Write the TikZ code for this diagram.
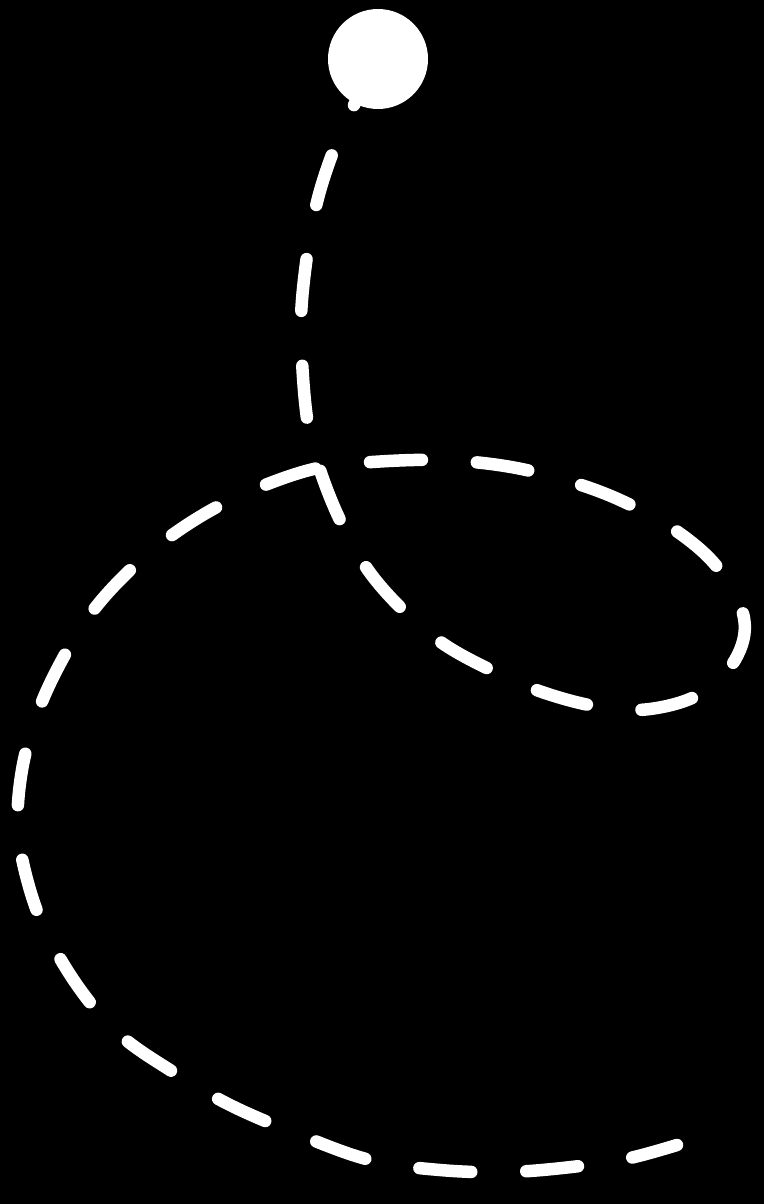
\documentclass[tikz,border=0pt]{standalone}
\begin{document}
\begin{tikzpicture}[x=1pt,y=-1pt,
  trail/.style={draw=white,line width=12.5pt,line cap=round,dash pattern=on 52pt off 55pt},
  ball/.style={circle,fill=white,inner sep=0pt,minimum size=100pt}]
\fill[black] (0,0) rectangle (764,1204);
\useasboundingbox (0,0) rectangle (764,1204);
\coordinate (c) at (378,59);
\coordinate (end) at (677,1145);
\draw[trail] plot[smooth,tension=0.6] coordinates {(c) (355,103) (330,160) (313,220) (302,300) (302,360) (308,425) (320,470) (340,520) (368,570) (405,612) (445,645) (495,672) (545,693) (600,707) (650,709) (700,694) (735,660) (744,618) (718,568) (675,530) (620,500) (565,480) (505,466) (440,460) (372,462) (318,468) (265,485) (215,508) (168,538) (128,572) (92,612) (62,660) (38,712) (22,770) (18,830) (30,890) (50,940) (82,992) (120,1035) (170,1070) (230,1105) (300,1135) (370,1160) (440,1170) (510,1172) (580,1166) (630,1158) (677,1145)};
\node[ball] (top) at (c) {};
\end{tikzpicture}
\end{document}
